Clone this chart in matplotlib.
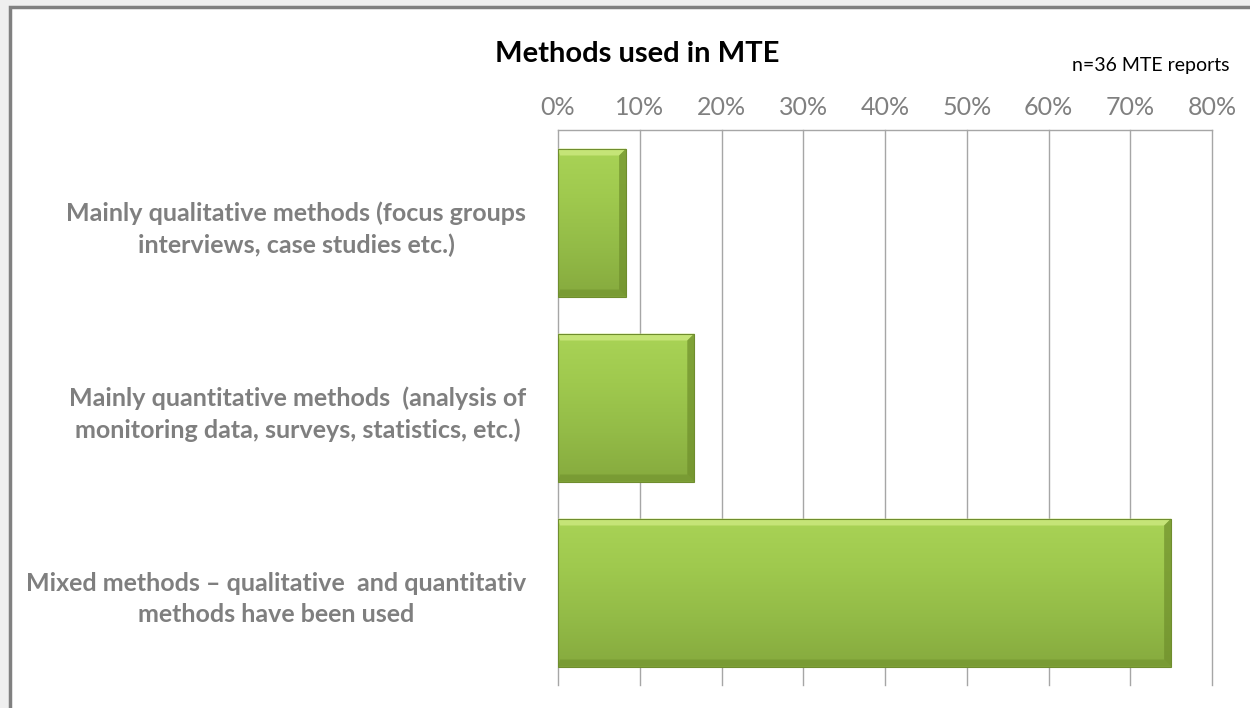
import matplotlib
matplotlib.use('Agg')
import matplotlib.pyplot as plt
import numpy as np
from matplotlib.patches import Rectangle, Polygon
from matplotlib.colors import LinearSegmentedColormap

# ---- data ----
categories = [
    "Mainly qualitative methods (focus groups\ninterviews, case studies etc.)",
    "Mainly quantitative methods  (analysis of\nmonitoring data, surveys, statistics, etc.)",
    "Mixed methods \u2013 qualitative  and quantitativ\nmethods have been used",
]
values = [8.33, 16.67, 75.0]
tick_values = [0, 10, 20, 30, 40, 50, 60, 70, 80]
tick_labels = ["0%", "10%", "20%", "30%", "40%", "50%", "60%", "70%", "80%"]
title = "Methods used in MTE"
note = "n=36 MTE reports"

W, H = 1250, 708
fig = plt.figure(figsize=(W / 100, H / 100), dpi=100)
fig.patch.set_facecolor('#efefef')
fig.patches.append(Rectangle((9.5 / W, -0.05), 1.1, 1.05 - 6.5 / H, transform=fig.transFigure,
                             facecolor='white', edgecolor='#808080', lw=2.5, zorder=-10))

ax = fig.add_axes([558 / W, 1 - 685 / H, (1212 - 558) / W, (685 - 130) / H])
ax.set_facecolor('none')

ypos = np.arange(len(categories))
bars = ax.barh(ypos, values, height=0.8, color='none', edgecolor='#6f8d2e', lw=0.8, zorder=4)

# gradient fill + bevel inside bars
cmap = LinearSegmentedColormap.from_list('g', ['#a9d356', '#9fc94e', '#93bb47', '#86aa3e'])
grad = np.linspace(0, 1, 256).reshape(-1, 1)
bx = 80 / 654 * 7   # bevel width in data units (x)
by = 3 / 555 * 7    # bevel width in data units (y)
for b in bars:
    x0, y0 = b.get_x(), b.get_y()
    w, h = b.get_width(), b.get_height()
    x1, y1 = x0 + w, y0 + h
    im = ax.imshow(grad, cmap=cmap, aspect='auto', extent=(x0, x1, y1, y0),
                   origin='upper', zorder=3.5, interpolation='bicubic')
    im.set_clip_path(b)
    # top bevel (light)
    ax.add_patch(Polygon([(x0, y0), (x1, y0), (x1 - bx, y0 + by), (x0 + bx * 0.3, y0 + by)],
                         facecolor='#d6ef8a', alpha=0.65, lw=0, zorder=3.6))
    # right bevel (dark)
    ax.add_patch(Polygon([(x1, y0), (x1, y1), (x1 - bx, y1 - by), (x1 - bx, y0 + by)],
                         facecolor='#6f8f2c', alpha=0.7, lw=0, zorder=3.6))
    # bottom bevel (dark)
    ax.add_patch(Polygon([(x0, y1), (x1, y1), (x1 - bx, y1 - by), (x0 + bx * 0.3, y1 - by)],
                         facecolor='#6f8f2c', alpha=0.55, lw=0, zorder=3.6))

ax.set_xlim(0, 80)
ax.set_ylim(len(categories) - 0.5, -0.5)

ax.xaxis.tick_top()
ax.set_xticks(tick_values)
ax.set_xticklabels(tick_labels, fontsize=18, color='#808080', family='Lato')
ax.tick_params(axis='x', length=0, pad=8)
ax.set_yticks(ypos)
ax.set_yticklabels(categories, fontsize=18, color='#7f7f7f', family='Lato', fontweight='bold',
                   multialignment='center', linespacing=1.45)
ax.tick_params(axis='y', length=0, pad=23)

ax.grid(axis='x', color='#a6a6a6', lw=1.0, zorder=1)
for gl in ax.get_xgridlines():
    gl.set_clip_on(False)
ax.set_axisbelow(True)
for s in ['left', 'right', 'bottom']:
    ax.spines[s].set_visible(False)
ax.spines['top'].set_color('#a6a6a6')
ax.spines['top'].set_linewidth(1.0)

fig.text(637 / W, 1 - 54 / H, title, fontsize=21, fontweight='bold', family='Lato',
         ha='center', va='center', color='black')
fig.text(1229 / W, 1 - 65 / H, note, fontsize=14, family='Lato', ha='right', va='center', color='black')

fig.savefig('out.png', dpi=100, facecolor=fig.get_facecolor())
